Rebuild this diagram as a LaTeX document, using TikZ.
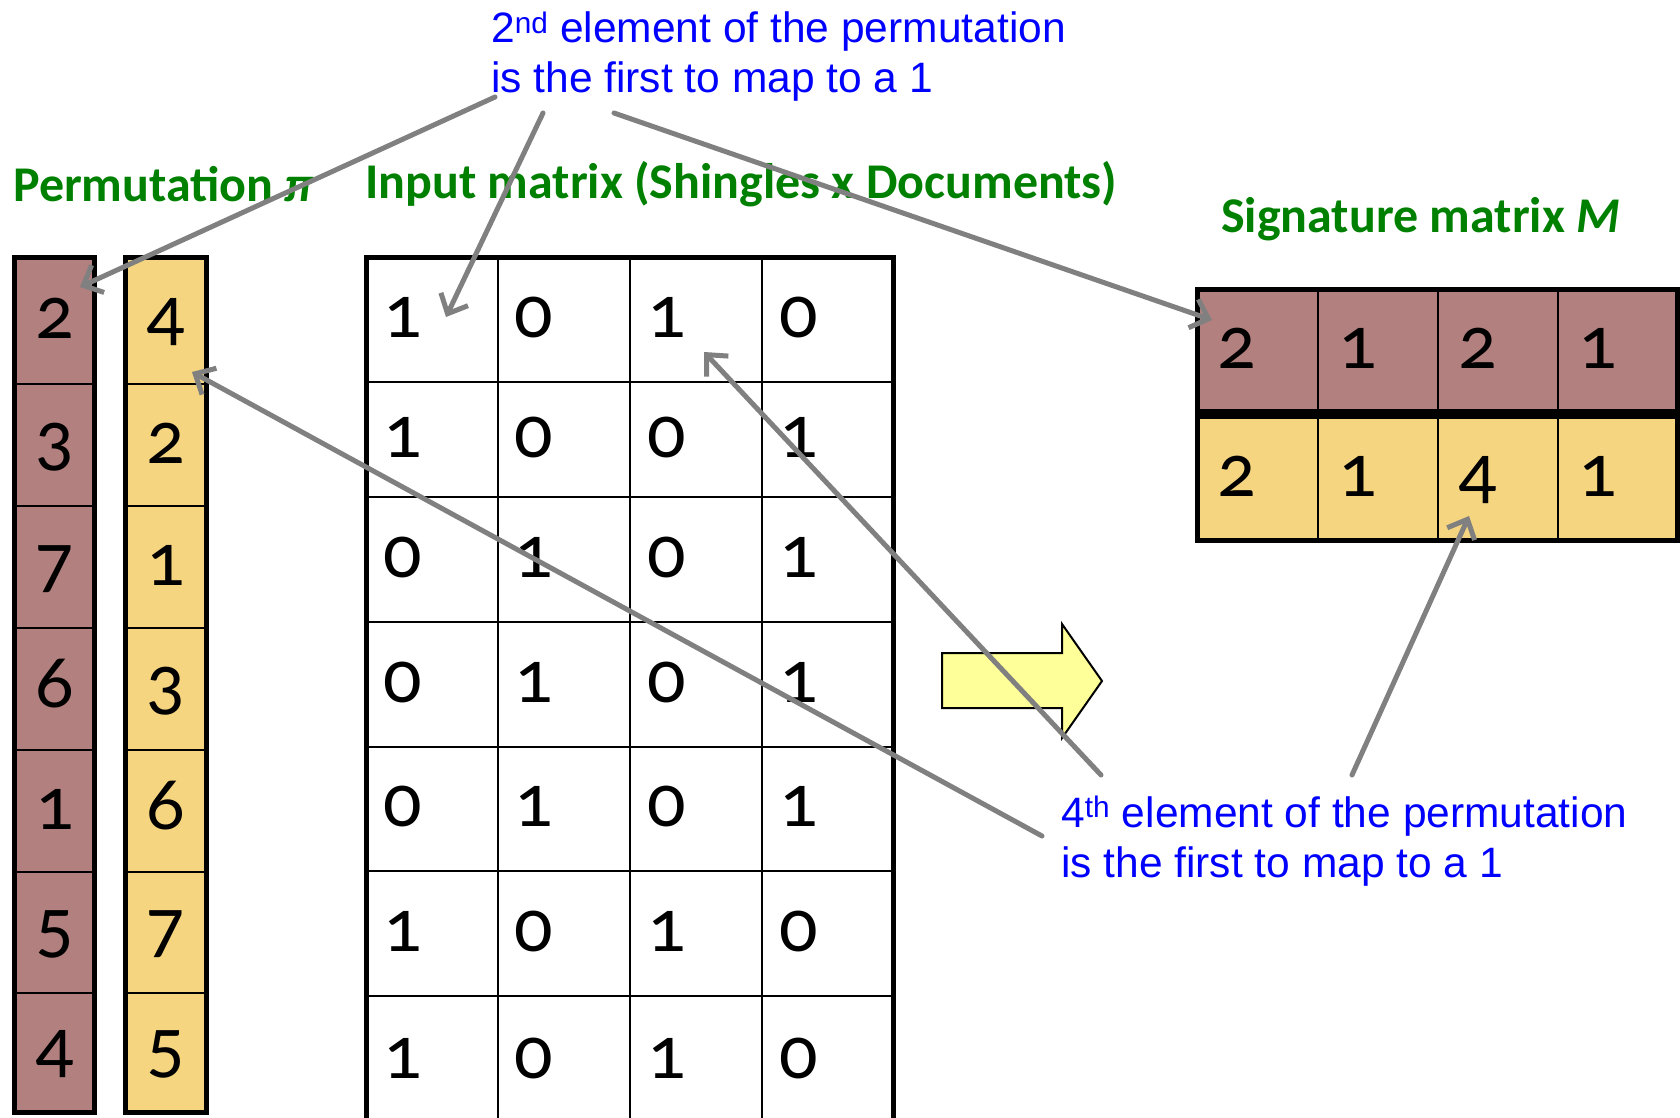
\documentclass[tikz,border=0pt]{standalone}
\usepackage{fontspec}
\setmainfont{Carlito}
\newfontfamily\digitfont[Numbers=OldStyle]{Carlito}
\newfontfamily\notefont{Liberation Sans}
\usetikzlibrary{arrows.meta}
\definecolor{permred}{RGB}{178,128,126}
\definecolor{permyel}{RGB}{245,213,128}
\definecolor{bigarrowfill}{RGB}{255,255,153}
\definecolor{headgreen}{RGB}{0,128,0}
\definecolor{noteblue}{RGB}{0,0,255}
\definecolor{pointergray}{RGB}{128,128,128}
\begin{document}
\begin{tikzpicture}[x=1pt,y=-1pt,
  cell/.style={draw=black, line width=2pt, inner sep=0pt,
    font=\digitfont\fontsize{76}{76}\selectfont, text height=36pt, text depth=0pt},
  framebox/.style={draw=black, line width=5pt},
  heading/.style={font=\bfseries\fontsize{50}{50}\selectfont, text=headgreen,
    anchor=base west, inner sep=0pt},
  note/.style={font=\notefont\fontsize{42.5}{50}\selectfont, text=noteblue,
    anchor=base west, inner sep=0pt},
  pointer/.style={draw=pointergray, line width=5pt, line cap=round,
    -{Straight Barb[length=16pt,width=30pt]}}
]
\useasboundingbox (0,0) rectangle (1680,1118);
\clip (0,0) rectangle (1680,1118);

% permutation columns
\foreach \i/\ya/\yb/\va/\vb in {1/257.5/384/2/4, 2/384/506/3/2, 3/506/628/7/1,
    4/628/750/6/3, 5/750/872/1/6, 6/872/993/5/7, 7/993/1112.5/4/5} {
  \node[cell, fill=permred, minimum width=80pt, minimum height={(\yb-\ya)*1pt}]
    (pa\i) at (54.5,{(\ya+\yb)/2}) {\va};
  \node[cell, fill=permyel, minimum width=81pt, minimum height={(\yb-\ya)*1pt}]
    (pb\i) at (166,{(\ya+\yb)/2}) {\vb};
}
\draw[framebox] (14.5,257.5) rectangle (94.5,1112.5);
\draw[framebox] (125.5,257.5) rectangle (206.5,1112.5);

% input matrix
\foreach \r/\ya/\yb/\vals in {1/257.5/381.5/{1,0,1,0}, 2/381.5/496.5/{1,0,0,1},
    3/496.5/621.5/{0,1,0,1}, 4/621.5/746.5/{0,1,0,1}, 5/746.5/871/{0,1,0,1},
    6/871/996/{1,0,1,0}, 7/996/1125/{1,0,1,0}} {
  \foreach \v [count=\c] in \vals {
    \pgfmathsetmacro\xa{{366.5,497.5,630,762}[\c-1]}
    \pgfmathsetmacro\xb{{497.5,630,762,893.5}[\c-1]}
    \pgfmathsetmacro\cw{\xb-\xa}
    \node[cell, fill=white, minimum width={\cw*1pt}, minimum height={(\yb-\ya)*1pt}]
      (m\r\c) at ({(\xa+\xb)/2},{(\ya+\yb)/2}) {\makebox[\cw pt][l]{\hspace*{17pt}\v}};
  }
}
\draw[framebox] (366.5,1140) -- (366.5,257.5) -- (893.5,257.5) -- (893.5,1140);

% signature matrix
\foreach \r/\ya/\yb/\vals/\fc in {1/289.5/411/{2,1,2,1}/permred, 2/416/540/{2,1,4,1}/permyel} {
  \foreach \v [count=\c] in \vals {
    \pgfmathsetmacro\xa{{1197.5,1318,1438,1558}[\c-1]}
    \pgfmathsetmacro\xb{{1318,1438,1558,1677.5}[\c-1]}
    \pgfmathsetmacro\cw{\xb-\xa}
    \node[cell, fill=\fc, minimum width={\cw*1pt}, minimum height={(\yb-\ya)*1pt}]
      (s\r\c) at ({(\xa+\xb)/2},{(\ya+\yb)/2}) {\makebox[\cw pt][l]{\hspace*{20pt}\v}};
  }
}
\draw[framebox] (1197.5,289.5) rectangle (1677.5,411);
\draw[framebox] (1197.5,416) rectangle (1677.5,540);

% big arrow
\draw[fill=bigarrowfill, line width=2pt, line join=miter]
  (942,653) -- (1062,653) -- (1062,624) -- (1102,681) -- (1062,738) -- (1062,708) -- (942,708) -- cycle;

% headings
\node[heading] (hperm) at (13,201) {Permutation \textit{π}};
\node[heading] (hinput) at (365,199) {Input matrix (Shingles x Documents)};
\node[heading] (hsig) at (1221,232) {Signature matrix \textit{M}};

% notes
\node[note] (ntop) at (491,43) {\vtop{\hbox{2\textsuperscript{nd} element of the permutation}\hbox{is the first to map to a 1}}};
\node[note] (nbot) at (1061,827) {\vtop{\hbox{4\textsuperscript{th} element of the permutation}\hbox{is the first to map to a 1}}};

% pointers
\coordinate (p1s) at (495,97);   \coordinate (p1e) at (80,287);
\coordinate (p2s) at (543,113);  \coordinate (p2e) at (446,317);
\coordinate (p3s) at (614,113);  \coordinate (p3e) at (1212,320);
\coordinate (p4s) at (1101,775); \coordinate (p4e) at (704,352);
\coordinate (p5s) at (1042,836); \coordinate (p5e) at (192,372);
\coordinate (p6s) at (1352,775); \coordinate (p6e) at (1469,516);
\draw[pointer] (p1s) -- (p1e);
\draw[pointer] (p2s) -- (p2e);
\draw[pointer] (p3s) -- (p3e);
\draw[pointer] (p4s) -- (p4e);
\draw[pointer] (p5s) -- (p5e);
\draw[pointer] (p6s) -- (p6e);
\end{tikzpicture}
\end{document}
